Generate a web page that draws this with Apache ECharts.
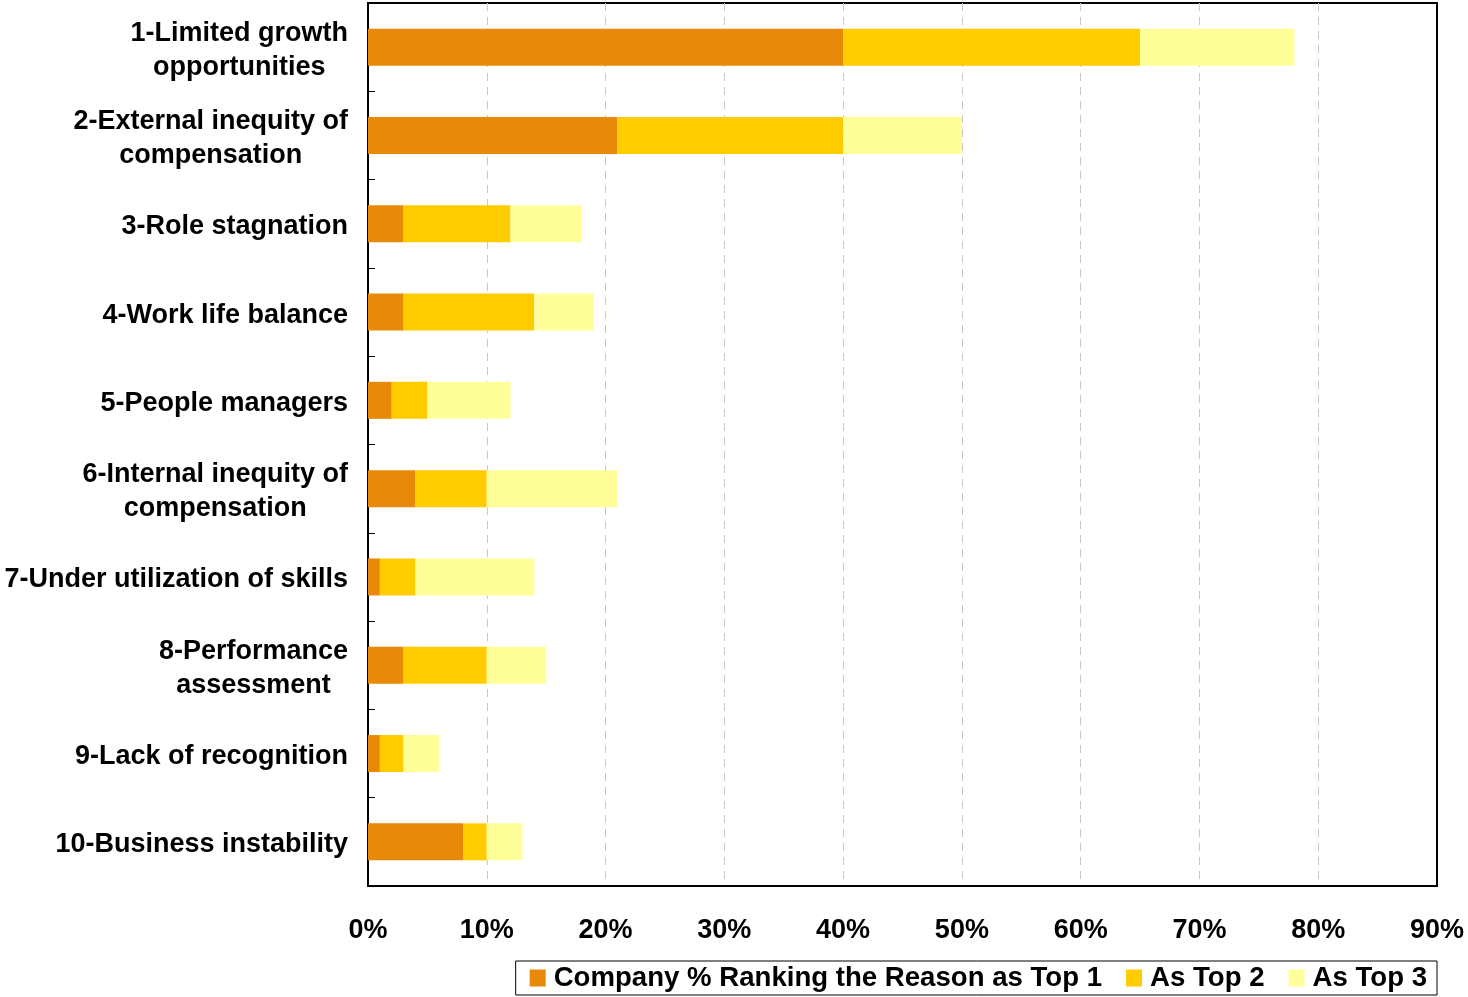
<!DOCTYPE html>
<html>
<head>
<meta charset="utf-8">
<script src="https://cdn.jsdelivr.net/npm/echarts@6/dist/echarts.min.js"></script>
<style>
    html, body { margin: 0; padding: 0; background: #fff; }
    #chart { width: 1468px; height: 997px; }
</style>
</head>
<body>
<div id="chart"></div>
<script>
var categories = [
    '1-Limited growth\nopportunities',
    '2-External inequity of\ncompensation',
    '3-Role stagnation',
    '4-Work life balance',
    '5-People managers',
    '6-Internal inequity of\ncompensation',
    '7-Under utilization of skills',
    '8-Performance\nassessment',
    '9-Lack of recognition',
    '10-Business instability'
];

// percent of companies, each series is the extra segment of the stack
var top1 = [40, 21, 3, 3, 2, 4, 1, 3, 1, 8];
var top2 = [25, 19, 9, 11, 3, 6, 3, 7, 2, 2];
var top3 = [13, 10, 6, 5, 7, 11, 10, 5, 3, 3];

var seriesNames = ['Company % Ranking the Reason as Top 1', 'As Top 2', 'As Top 3'];
var colors = ['#E8890A', '#FFCC00', '#FFFF99'];

var font = '"Liberation Sans", Arial, sans-serif';

var myChart = echarts.init(document.getElementById('chart'));

var makeSeries = function (name, data, color) {
    return {
        name: name,
        type: 'bar',
        stack: 'total',
        barWidth: 37,
        data: data,
        itemStyle: { color: color },
        emphasis: { disabled: true }
    };
};

var option = {
    animation: false,
    textStyle: { fontFamily: font },
    grid: {
        left: 368,
        right: 31,
        top: 3,
        bottom: 111,
        show: true,
        borderColor: '#000',
        borderWidth: 2
    },
    legend: {
        right: 31,
        bottom: 2,
        itemWidth: 16,
        itemHeight: 17,
        itemGap: 24,
        icon: 'rect',
        padding: [3, 10, 3, 14],
        borderColor: '#000',
        borderWidth: 1,
        textStyle: {
            fontFamily: font,
            fontSize: 27.6,
            fontWeight: 'bold',
            color: '#000',
            padding: [0, 0, 0, 3]
        },
        data: seriesNames
    },
    xAxis: {
        type: 'value',
        min: 0,
        max: 90,
        interval: 10,
        axisLine: { show: true, lineStyle: { color: '#000', width: 2 } },
        axisTick: { show: false },
        axisLabel: {
            formatter: '{value}%',
            margin: 31,
            fontFamily: font,
            fontSize: 27,
            fontWeight: 'bold',
            color: '#000'
        },
        splitLine: {
            show: true,
            showMinLine: false,
            showMaxLine: false,
            lineStyle: { color: '#c8c8c8', width: 1, type: [8, 6] }
        }
    },
    yAxis: {
        type: 'category',
        inverse: true,
        data: categories,
        axisLine: { show: true, lineStyle: { color: '#000', width: 2 } },
        axisTick: {
            show: true,
            inside: true,
            length: 7,
            lineStyle: { color: '#000', width: 1 }
        },
        axisLabel: {
            margin: 20,
            color: '#000',
            padding: [6, 0, 0, 0],
            formatter: function (value) {
                return value.split('\n').map(function (line) {
                    return '{c|' + line + '}';
                }).join('\n');
            },
            rich: {
                c: {
                    align: 'center',
                    fontFamily: font,
                    fontSize: 27,
                    fontWeight: 'bold',
                    lineHeight: 34,
                    color: '#000'
                }
            }
        }
    },
    series: [
        makeSeries(seriesNames[0], top1, colors[0]),
        makeSeries(seriesNames[1], top2, colors[1]),
        makeSeries(seriesNames[2], top3, colors[2])
    ]
};

myChart.setOption(option);
</script>
</body>
</html>
